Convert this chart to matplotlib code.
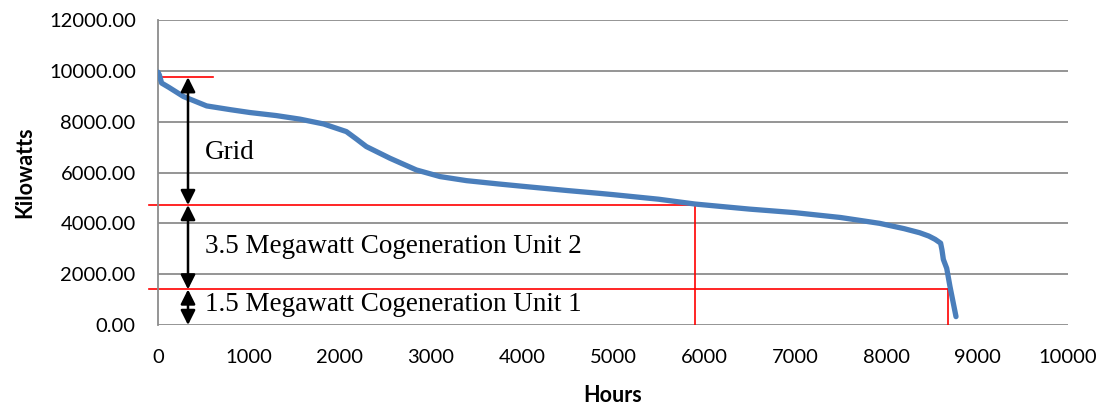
import matplotlib.pyplot as plt

# load duration curve
hours = [0, 15, 40, 120, 280, 535, 800, 1010, 1300, 1560, 1820, 2070, 2180,
         2290, 2550, 2840, 3100, 3390, 3740, 4000, 4500, 4850, 5000, 5500, 5900,
         6500, 7000, 7500, 7930, 8200, 8370, 8470, 8540, 8600, 8615, 8630,
         8667, 8703, 8769]
kw = [9950, 9840, 9520, 9350, 8990, 8620, 8470, 8360, 8240, 8100, 7910, 7610,
      7320, 7020, 6560, 6100, 5840, 5680, 5550, 5460, 5290, 5180, 5130,
      4950, 4760, 4560, 4420, 4230, 4000, 3790, 3630, 3500, 3370, 3220, 2950,
      2580, 2230, 1510, 330]

# capacity split lines
grid_top = 9750
unit2_top = 4720
unit1_top = 1400
unit2_hours = 5900
unit1_hours = 8680
arrow_x = 330

plt.rcParams['font.family'] = ['Lato', 'DejaVu Sans']

fig = plt.figure(figsize=(11.07, 4.05), dpi=100)
ax = fig.add_axes([0.1427, 0.1975, 0.8221, 0.7531])

ax.set_xlim(0, 10000)
ax.set_ylim(0, 12000)
ax.set_xticks(range(0, 10001, 1000))
ax.set_yticks(range(0, 12001, 2000))
ax.set_yticklabels(['%.2f' % v for v in range(0, 12001, 2000)])
ax.tick_params(length=0, labelsize=14.5)
ax.tick_params(axis='x', pad=17)
ax.tick_params(axis='y', pad=16)
ax.yaxis.grid(True, color='#8c8c8c', linewidth=1.3)
ax.set_axisbelow(True)
for s in ['top', 'right', 'bottom']:
    ax.spines[s].set_visible(False)
ax.spines['left'].set_color('#8c8c8c')
ax.spines['left'].set_linewidth(1.3)

# red boundaries
red = '#ff0000'
ax.plot([30, 600], [grid_top, grid_top], color=red, lw=1.2)
ax.plot([-100, unit2_hours], [unit2_top, unit2_top], color=red, lw=1.2, clip_on=False)
ax.plot([unit2_hours, unit2_hours], [unit2_top, 0], color=red, lw=1.2)
ax.plot([-100, unit1_hours], [unit1_top, unit1_top], color=red, lw=1.2, clip_on=False)
ax.plot([unit1_hours, unit1_hours], [unit1_top, 0], color=red, lw=1.2)

ax.plot(hours, kw, color='#4a7ebb', lw=3.8, solid_capstyle='round',
        solid_joinstyle='round', zorder=3)

# double arrows
for lo, hi in [(unit2_top, grid_top), (unit1_top, unit2_top), (0, unit1_top)]:
    ax.annotate('', xy=(arrow_x, lo), xytext=(arrow_x, hi),
                arrowprops=dict(arrowstyle='<|-|>', color='black', lw=1.8,
                                mutation_scale=22, shrinkA=0, shrinkB=0))

serif = ['Liberation Serif', 'DejaVu Serif']
ax.text(520, 6800, 'Grid', family=serif, fontsize=19.5, va='center')
ax.text(520, 3100, '3.5 Megawatt Cogeneration Unit 2', family=serif, fontsize=19.5, va='center')
ax.text(520, 800, '1.5 Megawatt Cogeneration Unit 1', family=serif, fontsize=19.5, va='center')

ax.set_xlabel('Hours', fontsize=15.5, fontweight='bold', labelpad=14)
ax.set_ylabel('Kilowatts', fontsize=15.5, fontweight='bold', labelpad=10)

fig.savefig('out.png', dpi=100)
